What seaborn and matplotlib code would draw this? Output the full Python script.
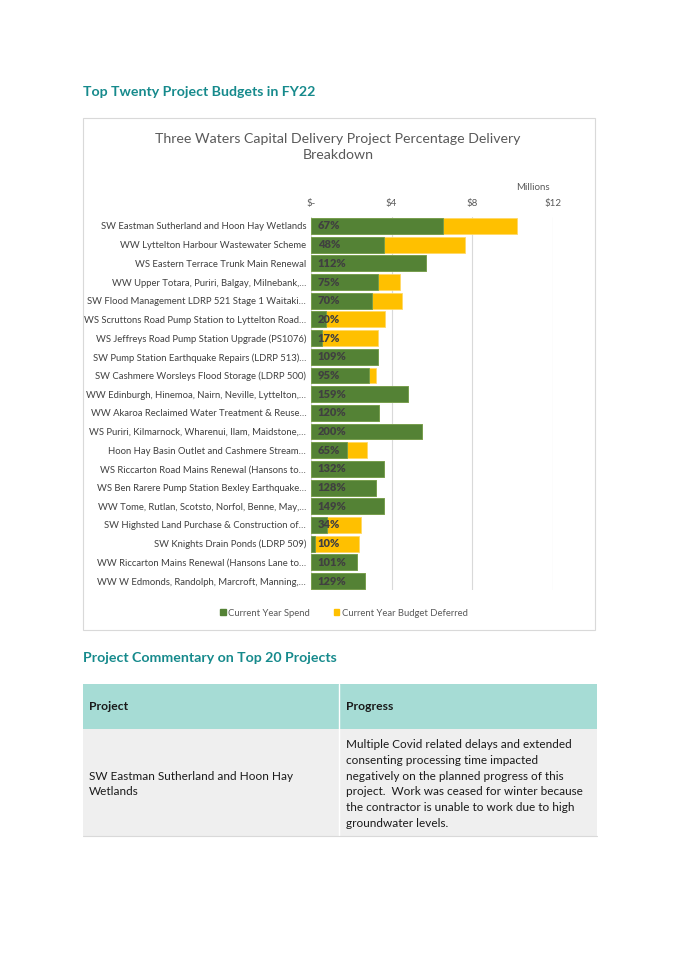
import pandas as pd
import seaborn as sns
import matplotlib.pyplot as plt
from matplotlib.patches import Rectangle, Patch

# project budgets, $ millions
projects = [
    "SW Eastman Sutherland and Hoon Hay Wetlands",
    "WW Lyttelton Harbour Wastewater Scheme",
    "WS Eastern Terrace Trunk Main Renewal",
    "WW Upper Totara, Puriri, Balgay, Milnebank,…",
    "SW Flood Management LDRP 521 Stage 1 Waitaki…",
    "WS Scruttons Road Pump Station to Lyttelton Road…",
    "WS Jeffreys Road Pump Station Upgrade (PS1076)",
    "SW Pump Station Earthquake Repairs (LDRP 513)…",
    "SW Cashmere Worsleys Flood Storage (LDRP 500)",
    "WW Edinburgh, Hinemoa, Nairn, Neville, Lyttelton,…",
    "WW Akaroa Reclaimed Water Treatment & Reuse…",
    "WS Puriri, Kilmarnock, Wharenui, Ilam, Maidstone,…",
    "Hoon Hay Basin Outlet and Cashmere Stream…",
    "WS Riccarton Road Mains Renewal (Hansons to…",
    "WS Ben Rarere Pump Station Bexley Earthquake…",
    "WW Tome, Rutlan, Scotsto, Norfol, Benne, May,…",
    "SW Highsted Land Purchase & Construction of…",
    "SW Knights Drain Ponds (LDRP 509)",
    "WW Riccarton Mains Renewal (Hansons Lane to…",
    "WW W Edmonds, Randolph, Marcroft, Manning,…",
]
spend = [6.53, 3.60, 5.69, 3.31, 3.02, 0.73, 0.56, 3.34, 2.86, 4.81,
         3.36, 5.52, 1.79, 3.62, 3.22, 3.64, 0.79, 0.21, 2.26, 2.69]
deferred = [3.67, 4.04, 0.0, 1.10, 1.49, 2.96, 2.78, 0.0, 0.36, 0.0,
            0.0, 0.0, 0.97, 0.0, 0.0, 0.0, 1.69, 2.17, 0.0, 0.0]
pct_delivered = [67, 48, 112, 75, 70, 20, 17, 109, 95, 159,
                 120, 200, 65, 132, 128, 149, 34, 10, 101, 129]
x_ticks = [0, 4, 8, 12]
x_ticklabels = ["$-", "$4", "$8", "$12"]

commentary_project = "SW Eastman Sutherland and Hoon Hay\nWetlands"
commentary_progress = ("Multiple Covid related delays and extended\n"
                       "consenting processing time impacted\n"
                       "negatively on the planned progress of this\n"
                       "project.  Work was ceased for winter because\n"
                       "the contractor is unable to work due to high\n"
                       "groundwater levels.")

GREEN = "#548235"
YELLOW = "#FFC000"
TEAL = "#168a8c"
GREY = "#595959"

df = pd.DataFrame({"project": projects, "spend": spend, "deferred": deferred})
df["total"] = df["spend"] + df["deferred"]

sns.set_theme(style="white")
plt.rcParams["font.family"] = ["Lato", "DejaVu Sans"]

fig = plt.figure(figsize=(6.75, 9.55), dpi=100)

# page layer in pixel coordinates
bg = fig.add_axes([0, 0, 1, 1])
bg.set_xlim(0, 675)
bg.set_ylim(955, 0)
bg.axis("off")

bg.text(83, 92, "Top Twenty Project Budgets in FY22", color=TEAL,
        fontsize=10.2, fontweight="bold", va="center", ha="left")
bg.add_patch(Rectangle((83, 118), 512, 512, fill=False, ec="#d9d9d9", lw=0.8))
bg.text(338, 147, "Three Waters Capital Delivery Project Percentage Delivery\nBreakdown",
        color=GREY, fontsize=10.2, ha="center", va="center", linespacing=1.45)
bg.text(533, 188, "Millions", color=GREY, fontsize=7, ha="center", va="center")

bg.text(83, 658, "Project Commentary on Top 20 Projects", color=TEAL,
        fontsize=10.2, fontweight="bold", va="center", ha="left")
bg.add_patch(Rectangle((83, 684), 514, 45, color="#a6dcd5", lw=0))
bg.add_patch(Rectangle((83, 729), 514, 107, color="#efefef", lw=0))
bg.plot([339, 339], [684, 836], color="white", lw=1)
bg.plot([83, 597], [836, 836], color="#d9d9d9", lw=0.8)
bg.text(89, 706, "Project", fontsize=8.7, fontweight="bold", color="#1a1a1a", va="center")
bg.text(346, 706, "Progress", fontsize=8.7, fontweight="bold", color="#1a1a1a", va="center")
bg.text(89, 784, commentary_project, fontsize=8.5, color="#1a1a1a", va="center",
        linespacing=1.52)
bg.text(346, 784, commentary_progress, fontsize=8.5, color="#1a1a1a", va="center",
        linespacing=1.52)

# bar chart
ax = fig.add_axes([311 / 675, 1 - 590.4 / 955, 242 / 675, 373.8 / 955])
sns.barplot(data=df, y="project", x="total", color=YELLOW, saturation=1,
            width=0.85, orient="h", ax=ax, edgecolor="#ffd966", linewidth=0.6)
sns.barplot(data=df, y="project", x="spend", color=GREEN, saturation=1,
            width=0.85, orient="h", ax=ax, edgecolor="#6f9c4f", linewidth=0.6)

for i, p in enumerate(pct_delivered):
    ax.text(0.33, i, f"{p}%", va="center", ha="left", fontsize=8,
            fontweight="heavy", color="#404040")

ax.set_xlim(0, 12)
ax.set_xticks(x_ticks)
ax.set_xticklabels(x_ticklabels)
ax.xaxis.tick_top()
ax.tick_params(axis="x", length=0, pad=6, labelsize=7, labelcolor=GREY)
ax.tick_params(axis="y", length=0, pad=3.5, labelsize=6.8, labelcolor="#404040")
ax.grid(axis="x", color="#d9d9d9", lw=0.8)
ax.set_axisbelow(True)
ax.set_xlabel("")
ax.set_ylabel("")
for s in ax.spines.values():
    s.set_visible(False)

fig.legend(handles=[Patch(color=GREEN, label="Current Year Spend"),
                    Patch(color=YELLOW, label="Current Year Budget Deferred")],
           loc="center", bbox_to_anchor=(344 / 675, 1 - 613 / 955), ncol=2,
           frameon=False, fontsize=6.8, handlelength=0.6, handleheight=0.6,
           handletextpad=0.3, columnspacing=2.5, labelcolor=GREY)

fig.savefig("out.png", dpi=100)
